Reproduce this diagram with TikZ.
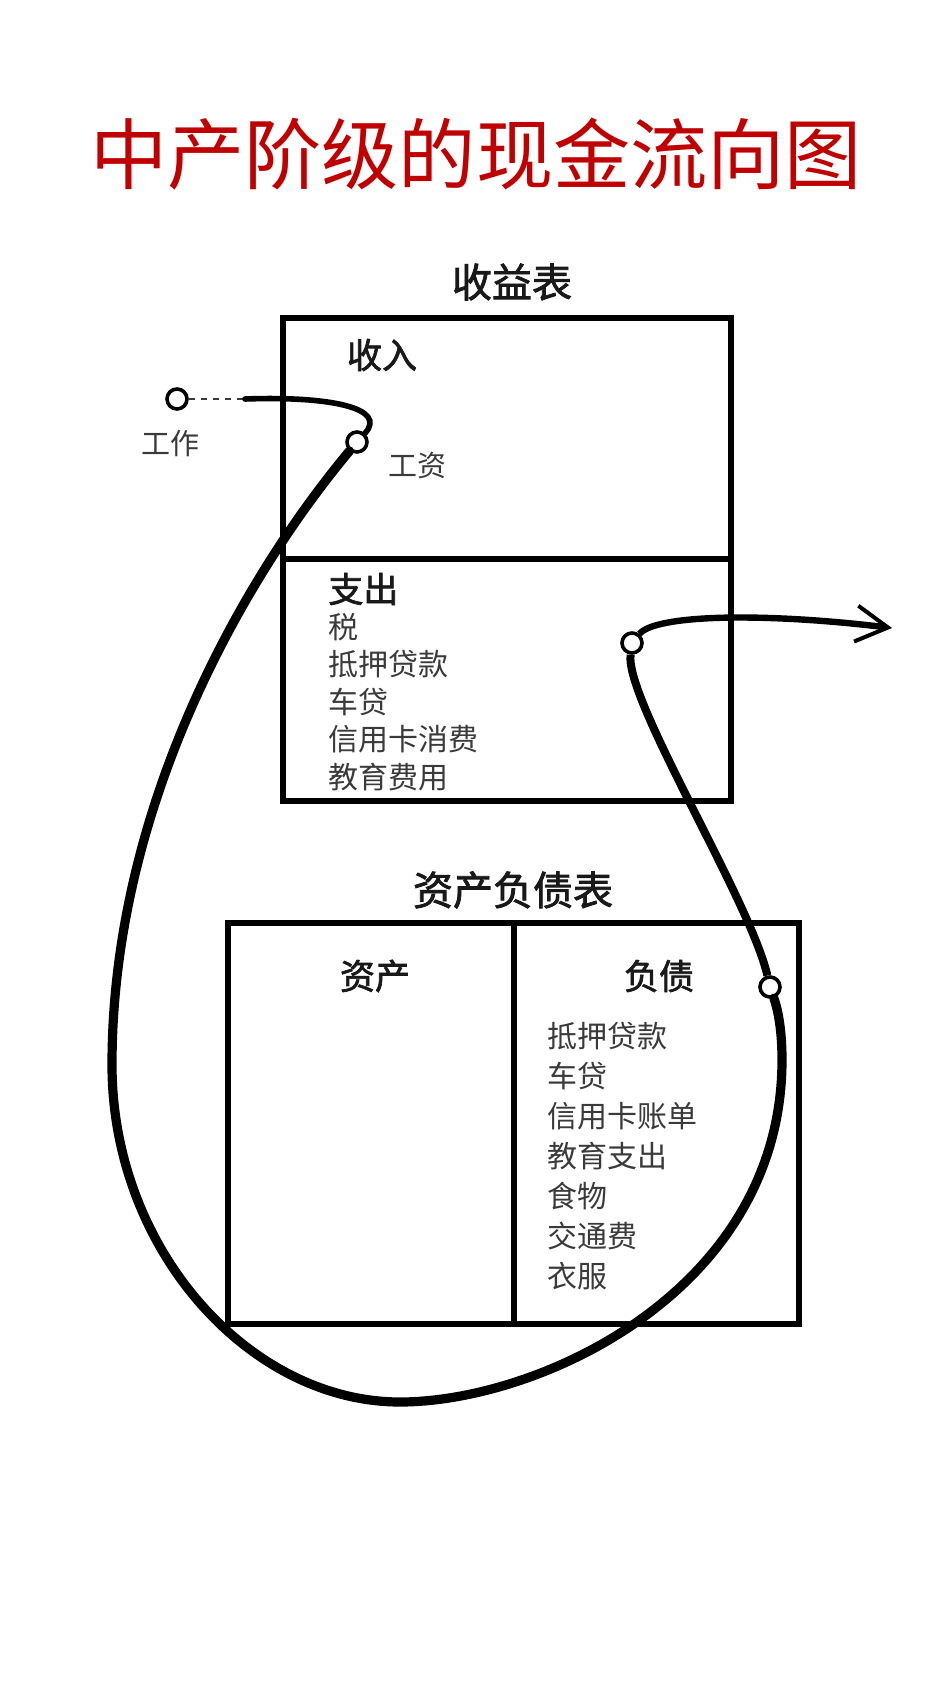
\documentclass[tikz,border=0pt]{standalone}
\usepackage{fontspec}
\setmainfont{Noto Sans CJK SC}[AutoFakeBold=2]
\usepackage{xcolor}
\usetikzlibrary{arrows.meta, positioning}
\definecolor{titlered}{RGB}{192,0,0}
\definecolor{inkgray}{RGB}{58,58,58}
\definecolor{inkdark}{RGB}{25,25,25}

\begin{document}
\begin{tikzpicture}[
    x=0.5pt, y=-0.5pt,
    frame/.style={draw=black, line width=2.6pt},
    flow/.style={line width=4.6pt, line cap=round},
    port/.style={circle, draw=black, fill=white, line width=1.8pt,
                 minimum size=10pt, inner sep=0pt},
    heading/.style={font=\bfseries\fontsize{20}{24}\selectfont, text=inkdark},
    part/.style={font=\bfseries\fontsize{17.5}{21}\selectfont, text=inkdark},
    items/.style={font=\fontsize{15}{18.75}\selectfont, text=inkgray,
                  align=left, anchor=base west, inner sep=0pt},
    tag/.style={font=\fontsize{14.5}{17}\selectfont, text=inkgray}
  ]
    \useasboundingbox (0,0) rectangle (950,1689);

    \node[font=\fontsize{38.6}{44}\selectfont, text=titlered] (title) at (476,154) {中产阶级的现金流向图};

    % income statement
    \draw[frame] (283,318) rectangle (731,801);
    \draw[frame] (283,559) -- (731,559);
    \node[heading] (incstmt) at (512,282) {收益表};
    \node[part] (income) at (382,355) {收入};
    \node[part, anchor=west, inner sep=0pt] (expense) at (328,589) {支出};
    % anchor is the baseline of the last line
    \node[items] (explist) at (328,788) {税\\抵押贷款\\车贷\\信用卡消费\\教育费用};

    % balance sheet
    \draw[frame] (228,923) rectangle (799,1324);
    \draw[frame] (514,923) -- (514,1324);
    \node[heading] (balsheet) at (513,890) {资产负债表};
    \node[part] (assets) at (375,976) {资产};
    \node[part] (liabs) at (659,976) {负债};
    \node[items, font=\fontsize{15}{20}\selectfont] (liablist) at (547,1287)
        {抵押贷款\\车贷\\信用卡账单\\教育支出\\食物\\交通费\\衣服};

    % ports
    \node[port] (work)   at (177,399) {};
    \node[port] (salary) at (357,442) {};
    \node[port] (spend)  at (632,643) {};
    \node[port] (owe)    at (770,987) {};
    \node[tag] (worklbl)   at (170,444) {工作};
    \node[tag] (salarylbl) at (417,466) {工资};
    \coordinate (fade) at (245,399);
    \coordinate (cashout) at (892,628);

    % cash flow
    \draw[dashed, line width=0.6pt, inkgray] (work) -- (fade);
    \draw[line width=2.8pt, line cap=round] (fade) .. controls (330,396) and (388,408) .. (salary);
    \draw[flow] (salary) .. controls (250,570) and (112,800) .. (112,1065)
        .. controls (112,1250) and (250,1402) .. (400,1402)
        .. controls (540,1402) and (782,1290) .. (782,1060)
        .. controls (782,1030) and (778,1010) .. (owe);
    \draw[line width=4pt] (owe) .. controls (750,900) and (625,700) .. (spend);
    \draw[line width=3.2pt, -{Straight Barb[length=16pt, width=18pt, line width=2pt]}]
        (spend) .. controls (655,615) and (760,612) .. (cashout);
\end{tikzpicture}
\end{document}
